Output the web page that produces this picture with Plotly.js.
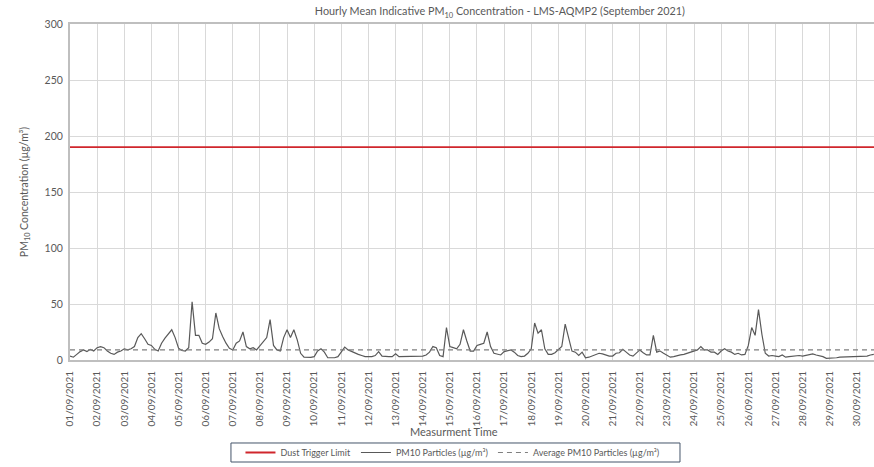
<!DOCTYPE html>
<html>
<head>
<meta charset="utf-8">
<script src="https://cdn.plot.ly/plotly-3.0.1.min.js"></script>
<style>html,body{margin:0;padding:0;background:#fff;}#chart{width:874px;height:467px;}</style>
</head>
<body>
<div id="chart"></div>
<script>
// ---- DATA ----
var startDate = '2021-09-01T00:00:00';
var stepHours = 3; // one value every 3 hours
// PM10 values (µg/m³), 8 values per day, 01/09 .. 30/09 (30/09 cut at right edge)
var pm10Values = [
  3.5, 2.5, 5, 7.5, 9, 7.5, 9.5, 8,          // 01/09
  11, 12, 11, 8, 6, 5, 7, 8,                  // 02/09
  10, 9, 10, 12, 20, 23.5, 19, 14,            // 03/09
  13, 9.5, 8, 15, 19.5, 23, 27, 20,           // 04/09
  10.5, 8.5, 8, 11, 52, 22, 22, 15,           // 05/09
  14, 16, 19, 42, 28, 21, 15, 10.5,           // 06/09
  9, 15, 17, 25, 12, 10, 11, 9,               // 07/09
  13, 16, 20, 36, 13, 9, 8, 20,               // 08/09
  27, 20, 27, 18, 6, 2.5, 2.3, 2.3,           // 09/09
  3, 8, 10, 7, 2, 2, 2, 3,                    // 10/09
  7, 11.5, 9, 7.5, 6, 5, 4, 3,                // 11/09
  3, 3, 4, 7.5, 3.5, 3, 3, 3,                 // 12/09
  5.5, 3, 3, 3.5, 3.5, 3.5, 3, 3.5,           // 13/09
  3.5, 4.5, 7, 12, 11, 4, 3, 29,              // 14/09
  12, 11, 10, 14, 27, 17, 8, 8,               // 15/09
  13, 14, 15, 25, 12, 6, 5, 4.5,              // 16/09
  7.5, 8.5, 9, 7, 4, 3, 3.5, 6,               // 17/09
  10, 33, 24, 27, 10, 5, 5, 6.5,              // 18/09
  9, 12, 32, 20, 8, 7, 4, 7,                  // 19/09
  2, 2.5, 3.5, 4.5, 6, 5.5, 4.5, 3.5,         // 20/09
  3.5, 6, 6.5, 9.5, 7, 4.5, 3.5, 6,           // 21/09
  9, 6.5, 4.5, 4.5, 22, 7, 8, 6,              // 22/09
  4.5, 2.5, 3, 4, 4.5, 5, 6, 7.5,             // 23/09
  8, 9, 12, 9, 9, 7, 7, 5,                    // 24/09
  8, 10, 8, 7, 5, 6, 4.5, 5,                  // 25/09
  13, 29, 22, 45, 23, 6, 3.5, 4,              // 26/09
  3.5, 3, 4.5, 2.5, 3, 3.5, 3.5, 4,           // 27/09
  3.5, 4, 4.5, 5.5, 4.5, 4, 3, 1.5,           // 28/09
  1.5, 1.5, 2, 2.5, 2.7, 2.7, 3, 3,           // 29/09
  3, 3.2, 3.5, 3.5, 4.5, 5                    // 30/09
];
var averagePM10 = 9;
var dustTriggerLimit = 190;
var seriesNames = ['Dust Trigger Limit', 'PM10 Particles (µg/m³)', 'Average PM10 Particles (µg/m³)'];
var axisRange = ['2021-09-01 00:00', '2021-09-30 15:10'];
var lineEnds = ['2021-09-01 00:00', '2021-10-01 00:00'];

// ---- build time axis ----
function pad(n){return (n<10?'0':'')+n;}
var t0 = new Date(startDate + 'Z').getTime();
var times = pm10Values.map(function(v, i){
  var d = new Date(t0 + i*stepHours*3600*1000);
  return d.getUTCFullYear()+'-'+pad(d.getUTCMonth()+1)+'-'+pad(d.getUTCDate())+' '+pad(d.getUTCHours())+':00';
});

var FONT = 'Lato, "Open Sans", sans-serif';
var GREY = '#595959';

var traces = [
  {x: lineEnds, y: [dustTriggerLimit, dustTriggerLimit], mode: 'lines', name: seriesNames[0],
   line: {color: '#d0262c', width: 1.8}, hoverinfo: 'skip'},
  {x: times, y: pm10Values, mode: 'lines', name: seriesNames[1],
   line: {color: '#595959', width: 1.2}},
  {x: lineEnds, y: [averagePM10, averagePM10], mode: 'lines', name: seriesNames[2],
   line: {color: '#7f7f7f', width: 1.2, dash: '5px,4px'}, hoverinfo: 'skip'}
];

var layout = {
  width: 874, height: 467,
  margin: {l: 70, r: 0, t: 24, b: 107, autoexpand: false},
  paper_bgcolor: '#ffffff', plot_bgcolor: '#ffffff',
  font: {family: FONT, color: GREY, size: 10},
  title: {text: 'Hourly Mean Indicative PM<sub>10</sub> Concentration - LMS-AQMP2 (September 2021)',
          font: {family: FONT, size: 10.8, color: GREY},
          x: 0.572, xref: 'container', xanchor: 'center', y: 0.975, yref: 'container', yanchor: 'middle'},
  xaxis: {
    type: 'date', range: axisRange,
    tick0: '2021-09-01', dtick: 86400000, tickformat: '%d/%m/%Y', tickangle: -90,
    showgrid: true, gridcolor: '#d9d9d9', gridwidth: 1,
    showline: true, linecolor: '#bfbfbf', linewidth: 2, mirror: true,
    ticks: '', ticklabelstandoff: 5, automargin: false,
    tickfont: {family: FONT, size: 10, color: GREY},
    zeroline: false, fixedrange: true
  },
  yaxis: {
    range: [0, 300], dtick: 50, tick0: 0,
    showgrid: true, gridcolor: '#d9d9d9', gridwidth: 1,
    showline: true, linecolor: '#bfbfbf', linewidth: 2,
    ticks: '', ticklabelstandoff: 3, automargin: false,
    tickfont: {family: FONT, size: 10.5, color: GREY},
    title: {text: 'PM<sub>10</sub> Concentration (µg/m³)', font: {family: FONT, size: 10.5, color: GREY}, standoff: 14},
    zeroline: false, fixedrange: true
  },
  annotations: [{
    text: 'Measurment Time', xref: 'paper', yref: 'paper', x: 0.478, y: -0.214,
    xanchor: 'center', yanchor: 'middle', showarrow: false,
    font: {family: FONT, size: 11, color: GREY}
  }],
  // legend frame (the legend itself is drawn without border)
  shapes: [{
    type: 'rect', xref: 'paper', yref: 'paper',
    x0: 0.2002, x1: 0.7587, y0: -0.3036, y1: -0.247,
    line: {color: '#44546a', width: 1}, fillcolor: 'rgba(0,0,0,0)', layer: 'above'
  }],
  showlegend: true,
  legend: {
    orientation: 'h', x: 0.5177, xref: 'container', xanchor: 'center',
    y: 0.031, yref: 'container', yanchor: 'middle',
    borderwidth: 0, bgcolor: 'rgba(0,0,0,0)',
    font: {family: FONT, size: 9, color: GREY},
    itemwidth: 30, tracegroupgap: 0
  }
};

Plotly.newPlot('chart', traces, layout, {displayModeBar: false, staticPlot: true});
</script>
</body>
</html>
